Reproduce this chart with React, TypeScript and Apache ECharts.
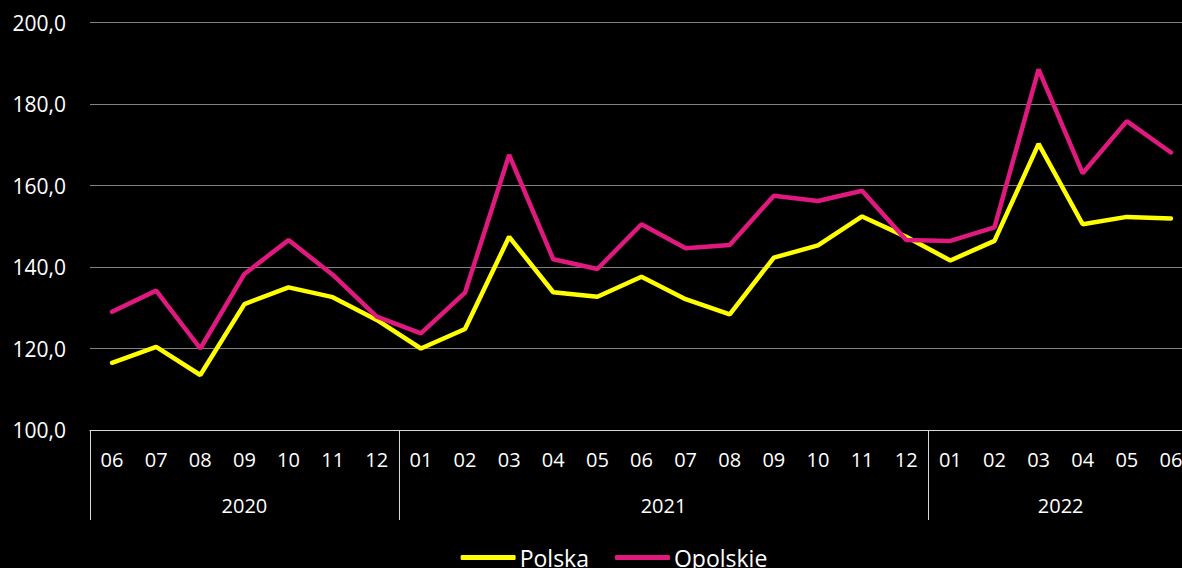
import React, { useEffect, useRef } from "react";
import * as echarts from "echarts";

const months = [
  "06", "07", "08", "09", "10", "11", "12",
  "01", "02", "03", "04", "05", "06", "07", "08", "09", "10", "11", "12",
  "01", "02", "03", "04", "05", "06",
];
const years = ["2020", "2021", "2022"];
const monthsPerYear = [7, 12, 6];

const polska = [
  116.5, 120.4, 113.5, 130.9, 135.0, 132.6, 127.0,
  120.0, 124.8, 147.4, 133.8, 132.7, 137.6, 132.1, 128.4, 142.3, 145.3, 152.4, 147.4,
  141.6, 146.4, 170.2, 150.5, 152.3, 151.9,
];
const opolskie = [
  129.0, 134.2, 120.0, 138.3, 146.6, 138.1, 127.8,
  123.7, 133.7, 167.5, 141.9, 139.5, 150.5, 144.6, 145.4, 157.5, 156.2, 158.7, 146.6,
  146.4, 149.7, 188.5, 163.0, 175.8, 168.1,
];

const yTicks = { min: 100, max: 200, interval: 20 };

const FONT = "'Open Sans', 'Noto Sans', sans-serif";

export default function App() {
  const ref = useRef<HTMLDivElement>(null);

  useEffect(() => {
    if (!ref.current) return;
    const chart = echarts.init(ref.current, undefined, { renderer: "svg" });

    // year group boundaries and centers in category-index units
    const boundaries: number[] = [-0.5];
    const centers: number[] = [];
    let start = 0;
    monthsPerYear.forEach((n) => {
      centers.push(start + (n - 1) / 2);
      start += n;
      boundaries.push(start - 0.5);
    });

    chart.setOption({
      animation: false,
      backgroundColor: "#000000",
      textStyle: { fontFamily: FONT },
      grid: { left: 90, top: 22.5, width: 1103, height: 407.5, containLabel: false },
      legend: {
        data: [
          { name: "Polska", icon: "roundRect" },
          { name: "Opolskie", icon: "roundRect" },
        ],
        left: "center",
        top: 541,
        itemWidth: 55,
        itemHeight: 5,
        itemGap: 26,
        textStyle: { color: "#ffffff", fontSize: 23, fontFamily: FONT, padding: [0, 0, 0, -1] },
      },
      xAxis: [
        {
          type: "category",
          data: months,
          boundaryGap: true,
          axisLine: { show: true, lineStyle: { color: "#d9d9d9", width: 1 } },
          axisTick: { show: false },
          axisLabel: { color: "#ffffff", fontSize: 20, margin: 19, interval: 0, fontFamily: FONT },
          splitLine: { show: false },
        },
        {
          type: "value",
          position: "bottom",
          min: -0.5,
          max: months.length - 0.5,
          axisLine: { show: false },
          axisTick: {
            show: true,
            customValues: boundaries,
            length: 90,
            inside: false,
            lineStyle: { color: "#d9d9d9", width: 1 },
          },
          axisLabel: {
            show: true,
            customValues: centers,
            margin: 65,
            color: "#ffffff",
            fontSize: 20,
            fontFamily: FONT,
            formatter: (v: number) => {
              const i = centers.findIndex((c) => Math.abs(c - v) < 0.01);
              return i >= 0 ? years[i] : "";
            },
          },
          splitLine: { show: false },
        },
      ],
      yAxis: {
        type: "value",
        min: yTicks.min,
        max: yTicks.max,
        interval: yTicks.interval,
        axisLine: { show: false },
        axisTick: { show: false },
        axisLabel: {
          color: "#ffffff",
          fontSize: 21,
          margin: 24,
          fontFamily: FONT,
          formatter: (v: number) => v.toFixed(1).replace(".", ","),
        },
        splitLine: { show: true, lineStyle: { color: "#808080", width: 1 } },
      },
      series: [
        {
          name: "Polska",
          type: "line",
          xAxisIndex: 0,
          data: polska,
          symbol: "none",
          lineStyle: { color: "#ffff00", width: 4.5, cap: "round" },
          itemStyle: { color: "#ffff00" },
        },
        {
          name: "Opolskie",
          type: "line",
          xAxisIndex: 0,
          data: opolskie,
          symbol: "none",
          lineStyle: { color: "#e0197f", width: 4.5, cap: "round" },
          itemStyle: { color: "#e0197f" },
        },
      ],
    });

    return () => chart.dispose();
  }, []);

  return (
    <div
      style={{
        position: "fixed",
        left: 0,
        top: 0,
        width: 1182,
        height: 568,
        overflow: "hidden",
        background: "#000000",
      }}
    >
      <div ref={ref} style={{ width: 1228, height: 568 }} />
    </div>
  );
}
